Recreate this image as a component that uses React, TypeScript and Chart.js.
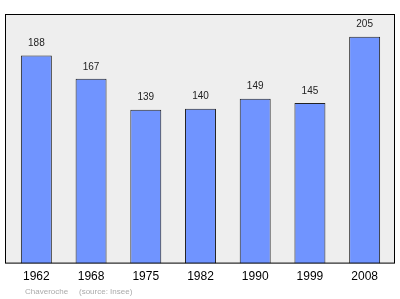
import React, { useEffect, useRef } from "react";
import { Chart, registerables } from "chart.js";

Chart.register(...registerables);

const years = ["1962", "1968", "1975", "1982", "1990", "1999", "2008"];
const population = [188, 167, 139, 140, 149, 145, 205];
const footerPlace = "Chaveroche";
const footerSource = "(source: Insee)";

const EXT_L = 4;
const EXT_R = 3;

const plotBg = {
  id: "plotBg",
  beforeDraw(chart: any) {
    const { ctx, chartArea } = chart;
    ctx.save();
    ctx.fillStyle = "#eeeeee";
    const l = chartArea.left - EXT_L;
    const r = chartArea.right + EXT_R;
    ctx.fillRect(l, chartArea.top, r - l, chartArea.bottom - chartArea.top);
    ctx.restore();
  },
  afterDraw(chart: any) {
    const { ctx, chartArea } = chart;
    ctx.save();
    ctx.strokeStyle = "#000000";
    ctx.lineWidth = 1;
    const l = chartArea.left - EXT_L;
    const r = chartArea.right + EXT_R;
    ctx.strokeRect(l + 0.5, chartArea.top + 0.5, r - l - 1, chartArea.bottom - chartArea.top - 1);
    // value labels
    const meta = chart.getDatasetMeta(0);
    ctx.fillStyle = "#222222";
    ctx.font = "10px 'Liberation Sans', Arial, sans-serif";
    ctx.textAlign = "center";
    ctx.textBaseline = "middle";
    meta.data.forEach((bar: any, i: number) => {
      ctx.fillText(String(chart.data.datasets[0].data[i]), bar.x, bar.y - 12);
    });
    // footer
    ctx.fillStyle = "#aaaaaa";
    ctx.font = "8px 'Liberation Sans', Arial, sans-serif";
    ctx.textAlign = "left";
    ctx.fillText(footerPlace, 25, 292);
    ctx.fillText(footerSource, 79, 292);
    ctx.restore();
  },
};

export default function App() {
  const ref = useRef<HTMLCanvasElement>(null);
  useEffect(() => {
    document.body.style.margin = "0";
    const chart = new Chart(ref.current!, {
      type: "bar",
      data: {
        labels: years,
        datasets: [
          {
            data: population,
            backgroundColor: "#7094ff",
            borderColor: "#222222",
            borderWidth: 1,
            borderSkipped: "bottom",
            categoryPercentage: 1,
            barPercentage: 0.566,
          },
        ],
      },
      options: {
        animation: false,
        responsive: false,
        maintainAspectRatio: false,
        layout: { padding: { left: 9, right: 8, top: 14, bottom: 17 } },
        plugins: { legend: { display: false }, tooltip: { enabled: false } },
        scales: {
          x: {
            grid: { display: false },
            border: { display: false },
            ticks: {
              color: "#000000",
              font: { size: 12, family: "'Liberation Sans', Arial, sans-serif" },
              padding: -2,
            },
          },
          y: {
            display: false,
            min: 0,
            max: 225.5,
          },
        },
      },
      plugins: [plotBg],
    });
    return () => chart.destroy();
  }, []);
  return (
    <div style={{ position: "absolute", left: 0, top: 0, width: 400, height: 299, background: "#ffffff" }}>
      <canvas ref={ref} width={400} height={299} style={{ width: 400, height: 299, display: "block" }} />
    </div>
  );
}
